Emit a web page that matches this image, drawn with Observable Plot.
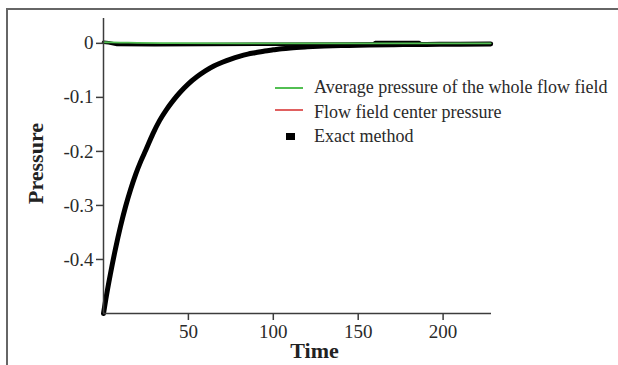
<!DOCTYPE html>
<html>
<head>
<meta charset="utf-8">
<script src="https://cdn.jsdelivr.net/npm/d3@7"></script>
<script src="https://cdn.jsdelivr.net/npm/@observablehq/plot@0.6"></script>
<style>
  html, body { margin: 0; padding: 0; background: #fff; }
  #wrap { position: relative; width: 618px; height: 365px; overflow: hidden; font-family: "Liberation Serif", "Times New Roman", serif; }
  #frame { position: absolute; left: 6px; top: 8px; width: 700px; height: 400px; border-left: 2px solid #666; border-top: 2px solid #666; }
  #legend { position: absolute; left: 0; top: 0; font-size: 18px; color: #2a2a2a; }
  .row { position: absolute; white-space: nowrap; }
  .sw { position: absolute; }
</style>
</head>
<body>
<div id="wrap">
  <div id="frame"></div>
  <div id="chart"></div>
  <div id="legend"></div>
</div>
<script>
// ---- data ----
const xTicks = [50, 100, 150, 200];
const yTicks = [0, -0.1, -0.2, -0.3, -0.4];

const exactTime = [0, 1.4, 4, 7, 10, 13, 16, 19, 22, 25, 29, 33, 37, 41, 45, 50, 55, 60, 65, 70, 75, 80, 85, 90, 95, 100, 105, 110, 120, 130, 140, 150, 170, 190, 210, 228];
const exactCenter = [-0.5, -0.473, -0.428, -0.381, -0.339, -0.302, -0.270, -0.242, -0.218, -0.197, -0.168, -0.143, -0.123, -0.106, -0.091, -0.075, -0.062, -0.051, -0.042, -0.035, -0.029, -0.024, -0.020, -0.017, -0.014, -0.012, -0.010, -0.0085, -0.0065, -0.005, -0.004, -0.0035, -0.0025, -0.002, -0.0015, -0.001];
const centerPressure = [-0.5, -0.473, -0.428, -0.381, -0.339, -0.302, -0.270, -0.242, -0.218, -0.197, -0.168, -0.143, -0.123, -0.106, -0.091, -0.075, -0.062, -0.051, -0.042, -0.035, -0.029, -0.024, -0.020, -0.017, -0.014, -0.012, -0.010, -0.0085, -0.0065, -0.005, -0.004, -0.0035, -0.0025, -0.002, -0.0015, -0.001];

const exactAvgTime = [0, 3, 8, 30, 60, 100, 150, 159, 160, 186, 187, 228];
const exactAvg = [0.002, 0.001, -0.002, -0.0025, -0.002, -0.0015, -0.001, -0.001, 0.0015, 0.0015, -0.001, -0.001];

const avgTime = [0, 10, 20, 40, 80, 120, 160, 200, 228];
const avgPressure = [0.002, 0.0015, 0.001, 0.0005, 0, 0, 0, 0, 0];

const seriesNames = ["Average pressure of the whole flow field", "Flow field center pressure", "Exact method"];
const seriesColors = ["#52bf52", "#e06060", "#000000"];

// ---- tables ----
const exactCenterData = exactTime.map((t, i) => ({t, p: exactCenter[i]}));
const centerData = exactTime.map((t, i) => ({t, p: centerPressure[i]}));
const exactAvgData = exactAvgTime.map((t, i) => ({t, p: exactAvg[i]}));
const avgData = avgTime.map((t, i) => ({t, p: avgPressure[i]}));

const axisColor = "#3c3c3c";
const plot = Plot.plot({
  width: 618,
  height: 365,
  marginLeft: 103,
  marginRight: 127,
  marginTop: 18,
  marginBottom: 52,
  style: {fontFamily: "'Liberation Serif', 'Times New Roman', serif", fontSize: "19px", color: "#2a2a2a", background: "transparent"},
  x: {domain: [0, 228.5]},
  y: {domain: [-0.5, 0.046]},
  marks: [
    Plot.line(centerData, {x: "t", y: "p", stroke: seriesColors[1], strokeWidth: 1.5, curve: "monotone-x"}),
    Plot.line(exactCenterData, {x: "t", y: "p", stroke: seriesColors[2], strokeWidth: 5, curve: "monotone-x"}),
    Plot.line(exactAvgData, {x: "t", y: "p", stroke: seriesColors[2], strokeWidth: 3.5, curve: "linear"}),
    Plot.line(avgData, {x: "t", y: "p", stroke: seriesColors[0], strokeWidth: 1.8, curve: "monotone-x"}),
    Plot.ruleX([0], {stroke: axisColor, strokeWidth: 1.5}),
    Plot.ruleY([-0.5], {stroke: axisColor, strokeWidth: 1.5}),
    Plot.axisX(xTicks, {tickSize: 7, tickPadding: 4, stroke: axisColor, strokeWidth: 1.5, label: null, fill: "#2a2a2a", fontSize: 19}),
    Plot.axisY(yTicks, {tickSize: 7, tickPadding: 3, stroke: axisColor, strokeWidth: 1.5, label: null, fill: "#2a2a2a", fontSize: 19,
      tickFormat: d => d === 0 ? "0" : "-" + Math.abs(d).toFixed(1)})
  ]
});
document.getElementById("chart").appendChild(plot);

// axis titles
const svg = d3.select(plot);
svg.append("text")
  .attr("x", 314.5).attr("y", 358)
  .attr("text-anchor", "middle")
  .attr("font-weight", "bold").attr("font-size", "22px")
  .attr("fill", "#222")
  .text("Time");
svg.append("text")
  .attr("transform", "translate(43,163.5) rotate(-90)")
  .attr("text-anchor", "middle")
  .attr("font-weight", "bold").attr("font-size", "22px")
  .attr("fill", "#222")
  .text("Pressure");

// legend
const legend = document.getElementById("legend");
const baselines = [92.7, 117.3, 141.7];
seriesNames.forEach((name, i) => {
  const row = document.createElement("div");
  row.className = "row";
  row.style.left = "314px";
  row.style.top = (baselines[i] - 14.5) + "px";
  row.style.lineHeight = "18px";
  row.textContent = name;
  legend.appendChild(row);
  const sw = document.createElement("div");
  sw.className = "sw";
  if (i < 2) {
    sw.style.left = "275px";
    sw.style.width = "28px";
    sw.style.height = "1.6px";
    sw.style.top = (i === 0 ? 87 : 109.3) + "px";
    sw.style.background = seriesColors[i];
  } else {
    sw.style.left = "286px";
    sw.style.width = "9px";
    sw.style.height = "7px";
    sw.style.top = "133px";
    sw.style.background = seriesColors[i];
  }
  legend.appendChild(sw);
});
</script>
</body>
</html>
